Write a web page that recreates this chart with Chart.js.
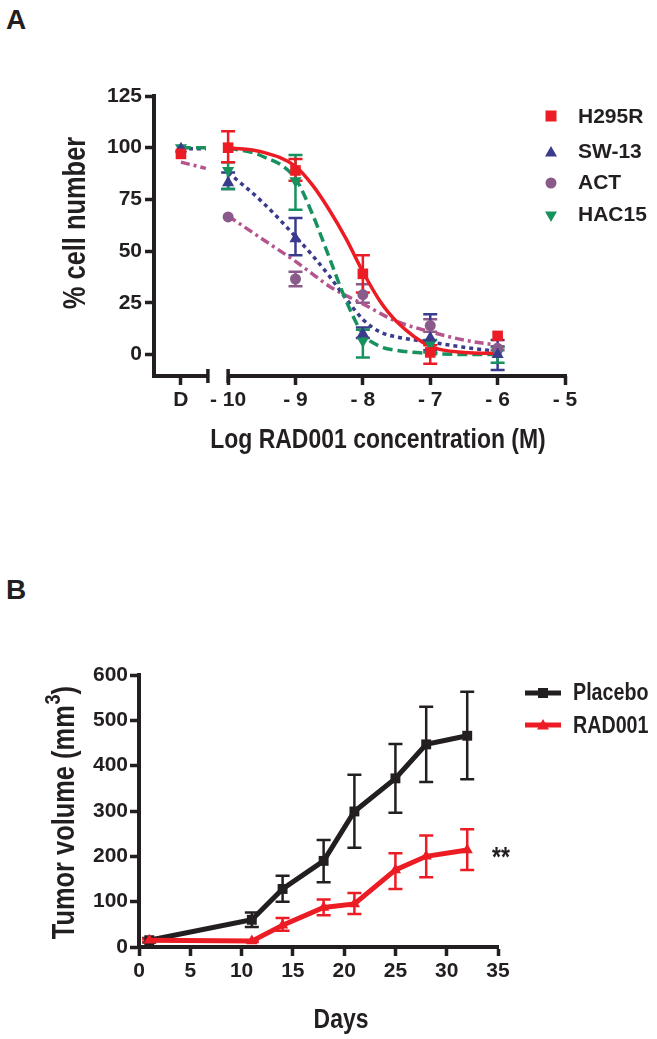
<!DOCTYPE html>
<html>
<head>
<meta charset="utf-8">
<script src="https://cdn.jsdelivr.net/npm/chart.js@4.4.1/dist/chart.umd.min.js"></script>
<style>
  html, body { margin: 0; padding: 0; background: #fff; }
  body { width: 657px; height: 1039px; position: relative; overflow: hidden; }
  .panel { position: absolute; left: 0; width: 657px; }
  #wrapA { top: 0; height: 470px; }
  #wrapB { top: 520px; height: 519px; }
  .letter { position: absolute; left: 6px; font: bold 28px "Liberation Sans", Arial, sans-serif; line-height: 1; color: #231f20; }
</style>
</head>
<body>
<div class="letter" style="top:6px">A</div>
<div class="letter" style="top:576px">B</div>
<div class="panel" id="wrapA"><canvas id="chartA" width="657" height="470"></canvas></div>
<div class="panel" id="wrapB"><canvas id="chartB" width="657" height="519"></canvas></div>
<script>
// ---- panel A: dose response ----
const doseX = [-10.7, -10, -9, -8, -7, -6];           // D = vehicle
const xTickValsA = [-10.7, -10, -9, -8, -7, -6, -5];
const xTickLabelsA = ['D', '- 10', '- 9', '- 8', '- 7', '- 6', '- 5'];
const yTickValsA = [0, 25, 50, 75, 100, 125];

const h295r = [97, 100, 89, 39, 1, 9];
const h295rHi = [97, 108, 94.5, 48, 4.5, 9];
const h295rLo = [97, 93, 84, 30, -4.5, 9];
const sw13 = [99.5, 83, 56, 10, 8, 0];
const sw13Hi = [99.5, 88, 66, 13, 19.5, 7];
const sw13Lo = [99.5, 80, 48, 8, 2, -7.5];
const act = [98, 66.5, 36.5, 29, 14, 3];
const actHi = [98, 66.5, 40, 34, 17, 4];
const actLo = [98, 66.5, 33, 25, 11, 2];
const hac15 = [100, 89, 84, 6.5, 5, 0.5];
const hac15Hi = [100, 93, 96.5, 12, 7, 3.5];
const hac15Lo = [100, 80, 70, -1.5, 1, -4];

// fitted curves
const curveX = [-10, -9.5, -9, -8.75, -8.5, -8.25, -8, -7.75, -7.5, -7, -6.5, -6];
const h295rFit = [100, 98, 91, 82, 70, 56, 40, 26, 16, 4, 1, 0.5];
const sw13Fit = [88, 74, 57, 48, 38, 27, 17, 11, 8.5, 6, 3.5, 1.5];
const actFit = [67, 56, 45, 39, 33, 28.5, 24.5, 20, 16, 11, 7, 4.5];
const hac15Fit = [100, 96, 85, 68, 47, 26, 10, 4, 2, 0.5, 0, 0];
const stubX = [-10.7, -10.33];
const sw13Stub = [99.5, 99.5];
const actStub = [93, 90];
const hac15Stub = [100, 100];

// ---- panel B: tumour growth ----
const days = [1, 11, 14, 18, 21, 25, 28, 32];
const placebo = [15, 60, 128, 190, 299, 372, 447, 466];
const placeboHi = [20, 76, 157, 236, 380, 448, 530, 563];
const placeboLo = [10, 44, 100, 143, 219, 296, 364, 370];
const rad001 = [15, 13, 48, 87, 95, 170, 200, 214];
const rad001Hi = [18, 15, 64, 105, 119, 207, 246, 260];
const rad001Lo = [12, 11, 36, 70, 73, 128, 154, 170];

const INK = '#231f20';
const RED = '#ec1c24';
const NAVY = '#3b3b8e';
const PURPLE = '#8a5a8b';
const MAGENTA = '#b5558f';
const GREEN = '#17925e';
const SANS = '"Liberation Sans", Arial, sans-serif';
const TICK_FONT = { family: SANS, size: 21, weight: 'bold' };
const NARROW = 0.82;   // no narrow face installed: squeeze the bold sans instead

const pts = (xs, ys) => xs.map((x, i) => ({ x, y: ys[i] }));

const errorBars = {
  id: 'errorBars',
  beforeDatasetsDraw(chart, args, opts) {
    const { ctx, scales: { x, y } } = chart;
    ctx.save();
    for (const s of opts.sets) {
      ctx.strokeStyle = s.color;
      ctx.lineWidth = s.width;
      s.x.forEach((xv, i) => {
        if (s.hi[i] === s.lo[i]) return;
        const px = x.getPixelForValue(xv);
        const top = y.getPixelForValue(s.hi[i]);
        const bot = y.getPixelForValue(s.lo[i]);
        ctx.beginPath();
        ctx.moveTo(px, top); ctx.lineTo(px, bot);
        ctx.moveTo(px - s.cap, top); ctx.lineTo(px + s.cap, top);
        ctx.moveTo(px - s.cap, bot); ctx.lineTo(px + s.cap, bot);
        ctx.stroke();
      });
    }
    ctx.restore();
  }
};

// x axis line of panel A with the break between D and -10
const brokenAxis = {
  id: 'brokenAxis',
  afterDraw(chart, args, opts) {
    if (!opts.breakAt) return;
    const { ctx, chartArea, scales: { x } } = chart;
    const yb = chartArea.bottom;
    const b1 = x.getPixelForValue(opts.breakAt[0]);
    const b2 = x.getPixelForValue(opts.breakAt[1]);
    ctx.save();
    ctx.strokeStyle = INK;
    ctx.lineWidth = 4;
    ctx.beginPath();
    ctx.moveTo(chartArea.left - 2, yb); ctx.lineTo(b1, yb);
    ctx.moveTo(b2, yb); ctx.lineTo(chartArea.right + 2, yb);
    ctx.stroke();
    ctx.lineWidth = 3.5;
    ctx.beginPath();
    ctx.moveTo(b1, yb - 7); ctx.lineTo(b1, yb + 7);
    ctx.moveTo(b2, yb - 7); ctx.lineTo(b2, yb + 7);
    ctx.stroke();
    ctx.restore();
  }
};

function marker(ctx, kind, x, y, r, color) {
  ctx.fillStyle = color;
  ctx.beginPath();
  if (kind === 'rect') ctx.rect(x - r, y - r, 2 * r, 2 * r);
  else if (kind === 'circle') ctx.arc(x, y, r, 0, Math.PI * 2);
  else if (kind === 'up') { ctx.moveTo(x, y - r); ctx.lineTo(x + r, y + r * 0.75); ctx.lineTo(x - r, y + r * 0.75); ctx.closePath(); }
  else if (kind === 'down') { ctx.moveTo(x, y + r); ctx.lineTo(x + r, y - r * 0.75); ctx.lineTo(x - r, y - r * 0.75); ctx.closePath(); }
  ctx.fill();
}

const annotations = {
  id: 'annotations',
  afterDraw(chart, args, opts) {
    const ctx = chart.ctx;
    ctx.save();
    ctx.fillStyle = INK;
    ctx.textBaseline = 'middle';
    for (const t of opts.texts || []) {
      ctx.save();
      ctx.translate(t.x, t.y);
      if (t.rotate) ctx.rotate(t.rotate);
      if (t.squeeze) ctx.scale(t.squeeze, 1);
      ctx.font = t.font;
      ctx.textAlign = t.align || 'center';
      if (t.sup) {
        // main text + superscript + tail, centred as a whole
        const w1 = ctx.measureText(t.text).width;
        ctx.font = t.supFont;
        const w2 = ctx.measureText(t.sup).width;
        ctx.font = t.font;
        const w3 = ctx.measureText(t.tail).width;
        const x0 = -(w1 + w2 + w3) / 2;
        ctx.textAlign = 'left';
        ctx.fillText(t.text, x0, 0);
        ctx.font = t.supFont;
        ctx.fillText(t.sup, x0 + w1 + 1, -11);
        ctx.font = t.font;
        ctx.fillText(t.tail, x0 + w1 + w2 + 1, 0);
      } else {
        ctx.fillText(t.text, 0, 0);
      }
      ctx.restore();
    }
    for (const m of opts.markers || []) {
      if (m.line) {
        ctx.strokeStyle = m.color;
        ctx.lineWidth = 5;
        ctx.beginPath();
        ctx.moveTo(m.x - 18, m.y); ctx.lineTo(m.x + 18, m.y);
        ctx.stroke();
      }
      marker(ctx, m.kind, m.x, m.y, m.r, m.color);
    }
    ctx.restore();
  }
};

function fixedArea(width) { return (s) => { s.width = width; }; }

new Chart(document.getElementById('chartA'), {
  type: 'line',
  plugins: [errorBars, brokenAxis, annotations],
  data: {
    datasets: [
      { data: pts(doseX, h295r), showLine: false, pointStyle: 'rect', pointRadius: 7.5, backgroundColor: RED, borderWidth: 0 },
      { data: pts(doseX, sw13), showLine: false, pointStyle: 'triangle', pointRadius: 7, backgroundColor: NAVY, borderWidth: 0 },
      { data: pts(doseX, act), showLine: false, pointStyle: 'circle', pointRadius: 5.5, backgroundColor: PURPLE, borderWidth: 0 },
      { data: pts(doseX, hac15), showLine: false, pointStyle: 'triangle', rotation: 180, pointRadius: 7, backgroundColor: GREEN, borderWidth: 0 },
      { data: pts(curveX, h295rFit), borderColor: RED, borderWidth: 3.5, pointRadius: 0, cubicInterpolationMode: 'monotone' },
      { data: pts(curveX, hac15Fit), borderColor: GREEN, borderWidth: 3.5, borderDash: [10, 5], pointRadius: 0, cubicInterpolationMode: 'monotone' },
      { data: pts(curveX, sw13Fit), borderColor: NAVY, borderWidth: 3.5, borderDash: [4, 4], pointRadius: 0, cubicInterpolationMode: 'monotone' },
      { data: pts(curveX, actFit), borderColor: MAGENTA, borderWidth: 3.5, borderDash: [9, 4, 3, 4], pointRadius: 0, cubicInterpolationMode: 'monotone' },
      { data: pts(stubX, hac15Stub), borderColor: GREEN, borderWidth: 3.5, borderDash: [10, 5], pointRadius: 0 },
      { data: pts(stubX, sw13Stub), borderColor: NAVY, borderWidth: 3.5, borderDash: [4, 4], pointRadius: 0 },
      { data: pts(stubX, actStub), borderColor: MAGENTA, borderWidth: 3.5, borderDash: [9, 4, 3, 4], pointRadius: 0 }
    ]
  },
  options: {
    responsive: false,
    animation: false,
    events: [],
    layout: { padding: { left: 0, top: 96, right: 92, bottom: 0 } },
    scales: {
      x: {
        type: 'linear', min: -11.1, max: -5,
        afterFit: (s) => { s.height = 94; },
        afterBuildTicks: (s) => { s.ticks = xTickValsA.map(v => ({ value: v })); },
        border: { display: false },
        grid: { drawOnChartArea: false, drawTicks: true, tickLength: 9, tickWidth: 3.5, tickColor: INK },
        ticks: { autoSkip: false, maxRotation: 0, padding: 3, color: INK, font: TICK_FONT,
                 callback: (v, i) => xTickLabelsA[i] }
      },
      y: {
        min: -10.4, max: 125,
        afterFit: fixedArea(154),
        afterBuildTicks: (s) => { s.ticks = yTickValsA.map(v => ({ value: v })); },
        border: { display: true, color: INK, width: 4 },
        grid: { drawOnChartArea: false, drawTicks: true, tickLength: 9, tickWidth: 3.5, tickColor: INK },
        ticks: { padding: 3, color: INK, font: TICK_FONT }
      }
    },
    plugins: {
      legend: { display: false },
      tooltip: { enabled: false },
      brokenAxis: { breakAt: [-10.3, -10] },
      errorBars: {
        sets: [
          { x: doseX, hi: actHi, lo: actLo, color: PURPLE, width: 2.5, cap: 7 },
          { x: doseX, hi: sw13Hi, lo: sw13Lo, color: NAVY, width: 2.5, cap: 7 },
          { x: doseX, hi: hac15Hi, lo: hac15Lo, color: GREEN, width: 2.5, cap: 7 },
          { x: doseX, hi: h295rHi, lo: h295rLo, color: RED, width: 2.5, cap: 7 }
        ]
      },
      annotations: {
        texts: [
          { text: '% cell number', x: 76, y: 223, rotate: -Math.PI / 2, squeeze: NARROW, font: 'bold 31px ' + SANS },
          { text: 'Log RAD001 concentration (M)', x: 378, y: 440, squeeze: NARROW, font: 'bold 28px ' + SANS },
          { text: 'H295R', x: 578, y: 117, align: 'left', font: 'bold 21px ' + SANS },
          { text: 'SW-13', x: 578, y: 152, align: 'left', font: 'bold 21px ' + SANS },
          { text: 'ACT', x: 578, y: 183, align: 'left', font: 'bold 21px ' + SANS },
          { text: 'HAC15', x: 578, y: 215, align: 'left', font: 'bold 21px ' + SANS }
        ],
        markers: [
          { kind: 'rect', x: 551, y: 116, r: 5.5, color: RED },
          { kind: 'up', x: 551, y: 152, r: 6, color: NAVY },
          { kind: 'circle', x: 551, y: 183, r: 5.5, color: PURPLE },
          { kind: 'down', x: 551, y: 216, r: 6, color: GREEN }
        ]
      }
    }
  }
});

new Chart(document.getElementById('chartB'), {
  type: 'line',
  plugins: [errorBars, annotations],
  data: {
    datasets: [
      { label: 'RAD001', data: pts(days, rad001), borderColor: RED, borderWidth: 5, pointStyle: 'triangle', pointRadius: 6.5, pointBackgroundColor: RED, pointBorderWidth: 0 },
      { label: 'Placebo', data: pts(days, placebo), borderColor: INK, borderWidth: 5, pointStyle: 'rect', pointRadius: 7, pointBackgroundColor: INK, pointBorderWidth: 0 }
    ]
  },
  options: {
    responsive: false,
    animation: false,
    events: [],
    layout: { padding: { left: 0, top: 155, right: 159, bottom: 0 } },
    scales: {
      x: {
        type: 'linear', min: 0, max: 35,
        afterFit: (s) => { s.height = 92; },
        border: { display: true, color: INK, width: 4 },
        grid: { drawOnChartArea: false, drawTicks: true, tickLength: 9, tickWidth: 3.5, tickColor: INK },
        ticks: { stepSize: 5, autoSkip: false, maxRotation: 0, padding: 3, color: INK, font: TICK_FONT }
      },
      y: {
        min: 0, max: 600,
        afterFit: fixedArea(139),
        border: { display: true, color: INK, width: 4 },
        grid: { drawOnChartArea: false, drawTicks: true, tickLength: 9, tickWidth: 3.5, tickColor: INK },
        ticks: { stepSize: 100, padding: 2, color: INK, font: TICK_FONT }
      }
    },
    plugins: {
      legend: { display: false },
      tooltip: { enabled: false },
      errorBars: {
        sets: [
          { x: days, hi: placeboHi, lo: placeboLo, color: INK, width: 2.5, cap: 7 },
          { x: days, hi: rad001Hi, lo: rad001Lo, color: RED, width: 2.5, cap: 7 }
        ]
      },
      annotations: {
        texts: [
          { text: 'Tumor volume (mm', sup: '3', tail: ')', x: 65, y: 293, rotate: -Math.PI / 2, squeeze: NARROW,
            font: 'bold 31px ' + SANS, supFont: 'bold 22px ' + SANS },
          { text: 'Days', x: 341, y: 500, squeeze: NARROW, font: 'bold 28px ' + SANS },
          { text: 'Placebo', x: 573, y: 173, align: 'left', squeeze: NARROW, font: 'bold 24px ' + SANS },
          { text: 'RAD001', x: 573, y: 206, align: 'left', squeeze: NARROW, font: 'bold 24px ' + SANS },
          { text: '**', x: 501, y: 338, squeeze: NARROW, font: 'bold 28px ' + SANS }
        ],
        markers: [
          { kind: 'rect', x: 543, y: 173, r: 5, color: INK, line: true },
          { kind: 'up', x: 543, y: 205, r: 6, color: RED, line: true }
        ]
      }
    }
  }
});
</script>
</body>
</html>
